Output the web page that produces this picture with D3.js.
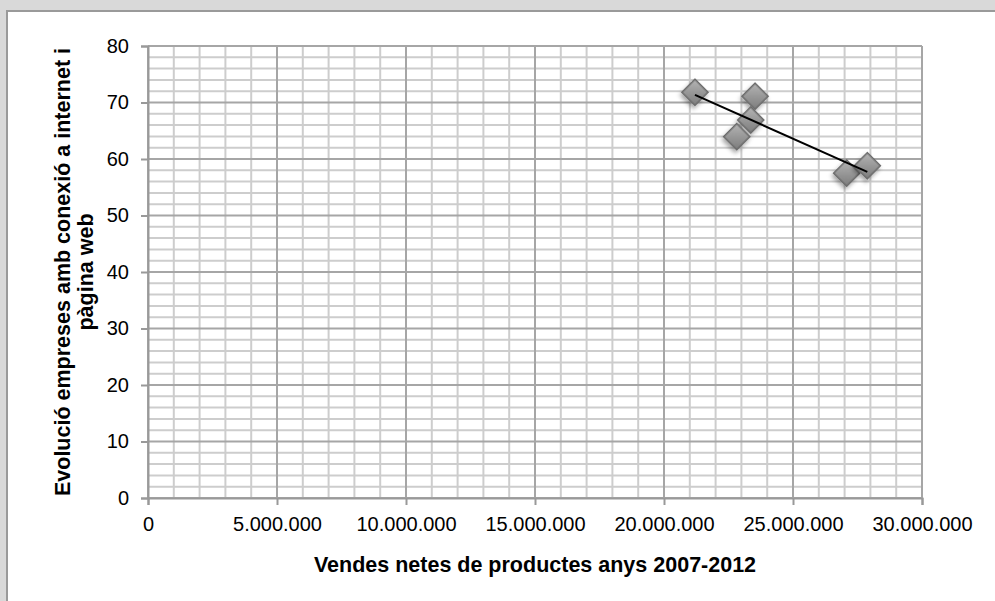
<!DOCTYPE html>
<html>
<head>
<meta charset="utf-8">
<script src="https://cdn.jsdelivr.net/npm/d3@7"></script>
<style>
  html, body { margin: 0; padding: 0; background: #d9d9d9; }
  svg { display: block; }
</style>
</head>
<body>
<svg id="chart" width="995" height="601"></svg>
<script>
// ---- data ----
const salesValues = [21200000, 23530000, 23360000, 22820000, 27080000, 27880000];
const webValues   = [71.8, 71.1, 66.9, 63.95, 57.5, 58.8];
const xTickValues = [0, 5000000, 10000000, 15000000, 20000000, 25000000, 30000000];
const yTickValues = [0, 10, 20, 30, 40, 50, 60, 70, 80];
const xTitle = "Vendes netes de productes anys 2007-2012";
const yTitleLines = ["Evolució empreses amb conexió a internet i", "pàgina web"];

const svg = d3.select("#chart");
const W = 995, H = 601;
const FONT = "Liberation Sans, Arial, Helvetica, sans-serif";

// panel
svg.append("rect").attr("x", 0).attr("y", 0).attr("width", W).attr("height", H).attr("fill", "#d9d9d9");
svg.append("rect").attr("x", 7).attr("y", 11).attr("width", W).attr("height", H)
  .attr("fill", "#ffffff").attr("stroke", "#9a9a9a").attr("stroke-width", 2);

const pLeft = 148, pRight = 922, pTop = 46, pBottom = 498;
const x = d3.scaleLinear().domain([0, 30000000]).range([pLeft, pRight]);
const y = d3.scaleLinear().domain([0, 80]).range([pBottom, pTop]);

const loc = d3.formatLocale({decimal: ",", thousands: ".", grouping: [3], currency: ["", "€"]});
const fmt = loc.format(",");

const g = svg.append("g");

// minor grid
const xMinor = d3.range(0, 30000001, 1000000).filter(v => v % 5000000 !== 0);
const yMinor = d3.range(0, 81, 2).filter(v => v % 10 !== 0);
g.selectAll(".xmin").data(xMinor).enter().append("line")
  .attr("x1", d => x(d)).attr("x2", d => x(d)).attr("y1", pTop).attr("y2", pBottom)
  .attr("stroke", "#cdcdcd").attr("stroke-width", 2);
g.selectAll(".ymin").data(yMinor).enter().append("line")
  .attr("x1", pLeft).attr("x2", pRight).attr("y1", d => y(d)).attr("y2", d => y(d))
  .attr("stroke", "#cdcdcd").attr("stroke-width", 2);

// major grid
g.selectAll(".xmaj").data(xTickValues).enter().append("line")
  .attr("x1", d => x(d)).attr("x2", d => x(d)).attr("y1", pTop).attr("y2", pBottom)
  .attr("stroke", "#a6a6a6").attr("stroke-width", 2);
g.selectAll(".ymaj").data(yTickValues).enter().append("line")
  .attr("x1", pLeft).attr("x2", pRight).attr("y1", d => y(d)).attr("y2", d => y(d))
  .attr("stroke", "#a6a6a6").attr("stroke-width", 2);

// axes
const xAxis = d3.axisBottom(x).tickValues(xTickValues).tickFormat(fmt).tickSize(7).tickPadding(12);
const yAxis = d3.axisLeft(y).tickValues(yTickValues).tickSize(7).tickPadding(12);

const gx = svg.append("g").attr("transform", `translate(0,${pBottom})`).call(xAxis);
const gy = svg.append("g").attr("transform", `translate(${pLeft},0)`).call(yAxis);
[gx, gy].forEach(a => {
  a.select(".domain").attr("stroke", "#999999").attr("stroke-width", 2);
  a.selectAll(".tick line").attr("stroke", "#999999").attr("stroke-width", 2);
  a.selectAll(".tick text").attr("fill", "#000").style("font-family", FONT).style("font-size", "20px");
});

// titles
svg.append("text").attr("x", (pLeft + pRight) / 2).attr("y", 572)
  .attr("text-anchor", "middle").style("font-family", FONT)
  .style("font-size", "21.5px").style("font-weight", "bold").text(xTitle);

const yt = svg.append("text").attr("transform", `translate(70,${(pTop + pBottom) / 2}) rotate(-90)`)
  .attr("text-anchor", "middle").style("font-family", FONT)
  .style("font-size", "21.5px").style("font-weight", "bold");
yTitleLines.forEach((t, i) => yt.append("tspan").attr("x", 0).attr("dy", i === 0 ? 0 : 23).text(t));

// defs
const defs = svg.append("defs");
const grad = defs.append("linearGradient").attr("id", "dg").attr("x1", "0").attr("y1", "0").attr("x2", "1").attr("y2", "1");
grad.append("stop").attr("offset", "0%").attr("stop-color", "#b4b4b4");
grad.append("stop").attr("offset", "100%").attr("stop-color", "#7c7c7c");
const filt = defs.append("filter").attr("id", "sh").attr("x", "-50%").attr("y", "-50%").attr("width", "200%").attr("height", "200%");
filt.append("feDropShadow").attr("dx", 1).attr("dy", 3).attr("stdDeviation", 2).attr("flood-color", "#000").attr("flood-opacity", 0.35);

const pts = salesValues.map((v, i) => ({x: v, y: webValues[i]}));

// diamonds
const sym = d3.symbol().type(d3.symbolSquare).size(340);
svg.append("g").selectAll("path").data(pts).enter().append("path")
  .attr("d", sym)
  .attr("transform", d => `translate(${x(d.x)},${y(d.y)}) rotate(45)`)
  .attr("fill", "url(#dg)").attr("stroke", "#6a6a6a").attr("stroke-width", 1.5)
  .attr("filter", "url(#sh)");

// linear trend line (least squares)
const mx = d3.mean(pts, d => d.x), my = d3.mean(pts, d => d.y);
const slope = d3.sum(pts, d => (d.x - mx) * (d.y - my)) / d3.sum(pts, d => (d.x - mx) ** 2);
const x0 = d3.min(pts, d => d.x), x1 = d3.max(pts, d => d.x);
svg.append("line")
  .attr("x1", x(x0)).attr("y1", y(my + slope * (x0 - mx)))
  .attr("x2", x(x1)).attr("y2", y(my + slope * (x1 - mx)))
  .attr("stroke", "#000").attr("stroke-width", 2);
</script>
</body>
</html>
